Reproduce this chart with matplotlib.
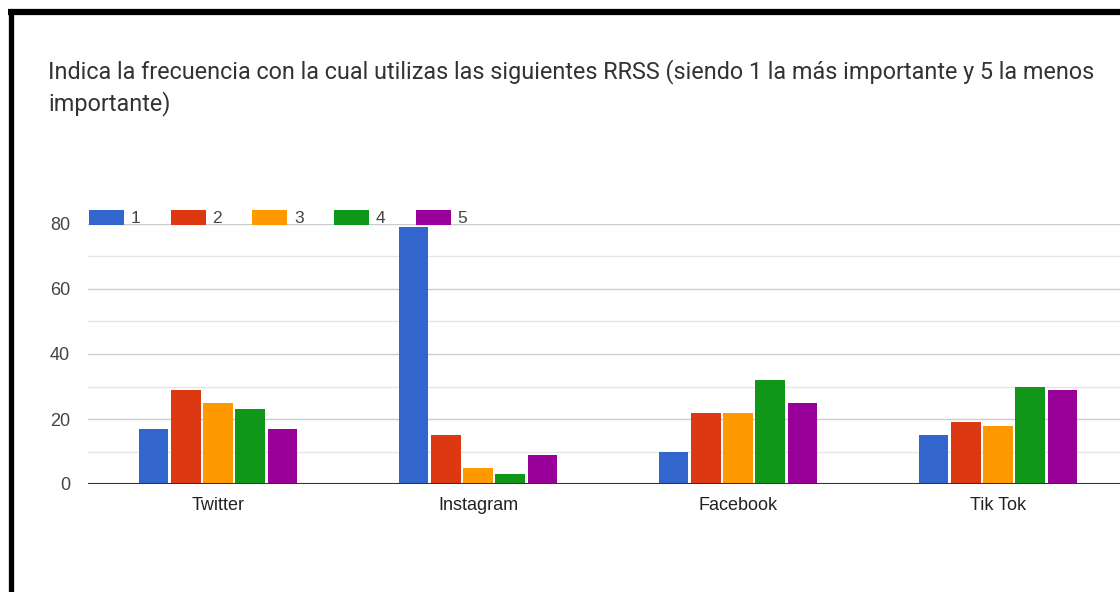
import matplotlib
matplotlib.use("Agg")
import matplotlib.pyplot as plt
import numpy as np
from matplotlib.patches import Patch
from matplotlib.lines import Line2D

redes = ["Twitter", "Instagram", "Facebook", "Tik Tok"]
niveles = ["1", "2", "3", "4", "5"]
nivel_1 = [17, 79, 10, 15]
nivel_2 = [29, 15, 22, 19]
nivel_3 = [25, 5, 22, 18]
nivel_4 = [23, 3, 32, 30]
nivel_5 = [17, 9, 25, 29]
series = [nivel_1, nivel_2, nivel_3, nivel_4, nivel_5]
colores = ["#3366cc", "#dc3912", "#ff9900", "#109618", "#990099"]
titulo_1 = "Indica la frecuencia con la cual utilizas las siguientes RRSS (siendo 1 la más importante y 5 la menos"
titulo_2 = "importante)"

W, H = 1120, 592
fig = plt.figure(figsize=(W / 100, H / 100), dpi=100)

# plot area in pixels: left 88, right ~1128 (cut off), y0 at 484, y80 at 224
ax = fig.add_axes([88 / W, 1 - 484 / H, 1040 / W, 260 / H])

x = np.arange(len(redes))
paso = 0.124
ancho = 0.115
for i, (vals, c) in enumerate(zip(series, colores)):
    ax.bar(x + (i - 2) * paso, vals, width=ancho, color=c, zorder=3)

ax.set_xlim(-0.5, len(redes) - 0.5)
ax.set_ylim(0, 80)
ax.set_yticks([0, 20, 40, 60, 80])
ax.set_yticks([10, 30, 50, 70], minor=True)
ax.grid(axis="y", which="major", color="#cccccc", linewidth=1, zorder=0)
ax.grid(axis="y", which="minor", color="#e6e6e6", linewidth=1, zorder=0)
ax.axhline(0, color="#333333", linewidth=1.5, zorder=4)
for s in ax.spines.values():
    s.set_visible(False)
ax.set_xticks(x)
ax.set_xticklabels(redes, fontsize=13, color="#222222", family="Liberation Sans")
ax.set_yticklabels(["0", "20", "40", "60", "80"], fontsize=13, color="#444444", family="Liberation Sans")
ax.tick_params(axis="both", which="both", length=0)
ax.tick_params(axis="y", pad=13)
ax.tick_params(axis="x", pad=9)

handles = [Patch(facecolor=c, edgecolor="none") for c in colores]
fig.legend(handles, niveles, loc="center left", bbox_to_anchor=(89 / W, 1 - 218 / H),
           ncol=5, frameon=False, prop={"family": "Liberation Sans", "size": 12.5},
           handlelength=2.0, handleheight=0.95, handletextpad=0.4, columnspacing=1.75,
           labelcolor="#444444", borderaxespad=0, borderpad=0)

fig.text(48 / W, 1 - 72 / H, titulo_1, fontsize=16.8, color="#333333", family="Roboto",
         va="center", ha="left")
fig.text(48 / W, 1 - 104 / H, titulo_2, fontsize=16.8, color="#333333", family="Roboto",
         va="center", ha="left")

# black frame edges (top and left) from the screenshot
fig.add_artist(Line2D([8 / W, 1], [1 - 12 / H, 1 - 12 / H], color="black", linewidth=4.5,
                      transform=fig.transFigure, solid_capstyle="butt"))
fig.add_artist(Line2D([10.5 / W, 10.5 / W], [0, 1 - 9 / H], color="black", linewidth=3.8,
                      transform=fig.transFigure, solid_capstyle="butt"))

fig.savefig("out.png", dpi=100)
